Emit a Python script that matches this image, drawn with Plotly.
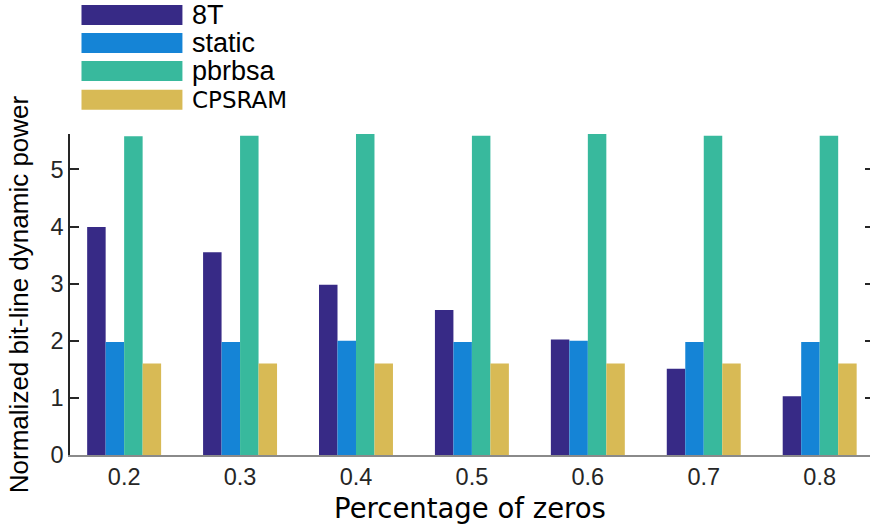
import plotly.graph_objects as go

categories = [0.2, 0.3, 0.4, 0.5, 0.6, 0.7, 0.8]
tick_labels = ["0.2", "0.3", "0.4", "0.5", "0.6", "0.7", "0.8"]
series_names = ["8T", "static", "pbrbsa", "CPSRAM"]
v_8t = [3.99, 3.55, 2.98, 2.54, 2.02, 1.51, 1.03]
v_static = [1.98, 1.98, 2.00, 1.98, 2.00, 1.98, 1.98]
v_pbrbsa = [5.58, 5.59, 5.62, 5.59, 5.62, 5.59, 5.59]
v_cpsram = [1.60, 1.60, 1.60, 1.60, 1.60, 1.60, 1.60]
colors = ["#372A86", "#1584D6", "#38B99D", "#D8BA55"]

W, H = 870, 524
L, R, T, B = 69.5, 870, 134, 455

fig = go.Figure()
for name, vals, col in zip(series_names, [v_8t, v_static, v_pbrbsa, v_cpsram], colors):
    fig.add_trace(go.Bar(x=categories, y=vals, name=name, marker=dict(color=col, line=dict(width=0)),
                         showlegend=False))
fig.add_trace(go.Scatter(x=[None], y=[None], yaxis="y2", showlegend=False, hoverinfo="skip"))

def px_x(p):
    return (p - L) / (R - L)

def px_y(p):
    return (B - p) / (B - T)

shapes = []
annotations = []
row_centers = [15, 43, 71, 99.7]
for i, (name, col) in enumerate(zip(series_names, colors)):
    cy = row_centers[i]
    shapes.append(dict(type="rect", xref="paper", yref="paper",
                       x0=px_x(81), x1=px_x(182), y0=px_y(cy + 10), y1=px_y(cy - 10),
                       fillcolor=col, line=dict(width=0), layer="above"))
    fnt = dict(family="Liberation Sans, Arial", size=27, color="#000")
    if name == "CPSRAM":
        fnt = dict(family="DejaVu Sans", size=23, color="#000")
    annotations.append(dict(text=name, xref="paper", yref="paper", x=px_x(190), y=px_y(cy),
                            xanchor="left", yanchor="middle", showarrow=False, font=fnt))

fig.update_layout(
    width=W, height=H,
    margin=dict(l=L, r=W - R, t=T, b=H - B, pad=0),
    paper_bgcolor="white", plot_bgcolor="white",
    barmode="group", bargap=0.362, bargroupgap=0,
    shapes=shapes, annotations=annotations,
    xaxis=dict(range=[0.1533, 0.8434], tickvals=categories, ticktext=tick_labels,
               showline=True, linecolor="#8a8a8a", linewidth=2, ticks="", showgrid=False,
               zeroline=False,
               tickfont=dict(family="Liberation Sans, Arial", size=23.5, color="#262626"),
               title=dict(text="Percentage of zeros", standoff=12,
                          font=dict(family="DejaVu Sans", size=27.5, color="#000"))),
    yaxis=dict(range=[0, 5.62], tickvals=[0, 1, 2, 3, 4, 5], showline=True, linecolor="#262626",
               linewidth=1.5, ticks="inside", ticklen=9, tickwidth=1.5, tickcolor="#262626",
               showgrid=False, zeroline=False,
               tickfont=dict(family="Liberation Sans, Arial", size=23.5, color="#262626"),
               title=dict(text="Normalized bit-line dynamic power", standoff=14,
                          font=dict(family="Liberation Sans, Arial", size=26, color="#000"))),
    yaxis2=dict(range=[0, 5.62], overlaying="y", side="right", tickvals=[0, 1, 2, 3, 4, 5],
                showticklabels=False, ticks="inside", ticklen=5, tickwidth=1.5,
                tickcolor="#262626", showline=False, showgrid=False, zeroline=False),
)

fig.write_html("out.html")
